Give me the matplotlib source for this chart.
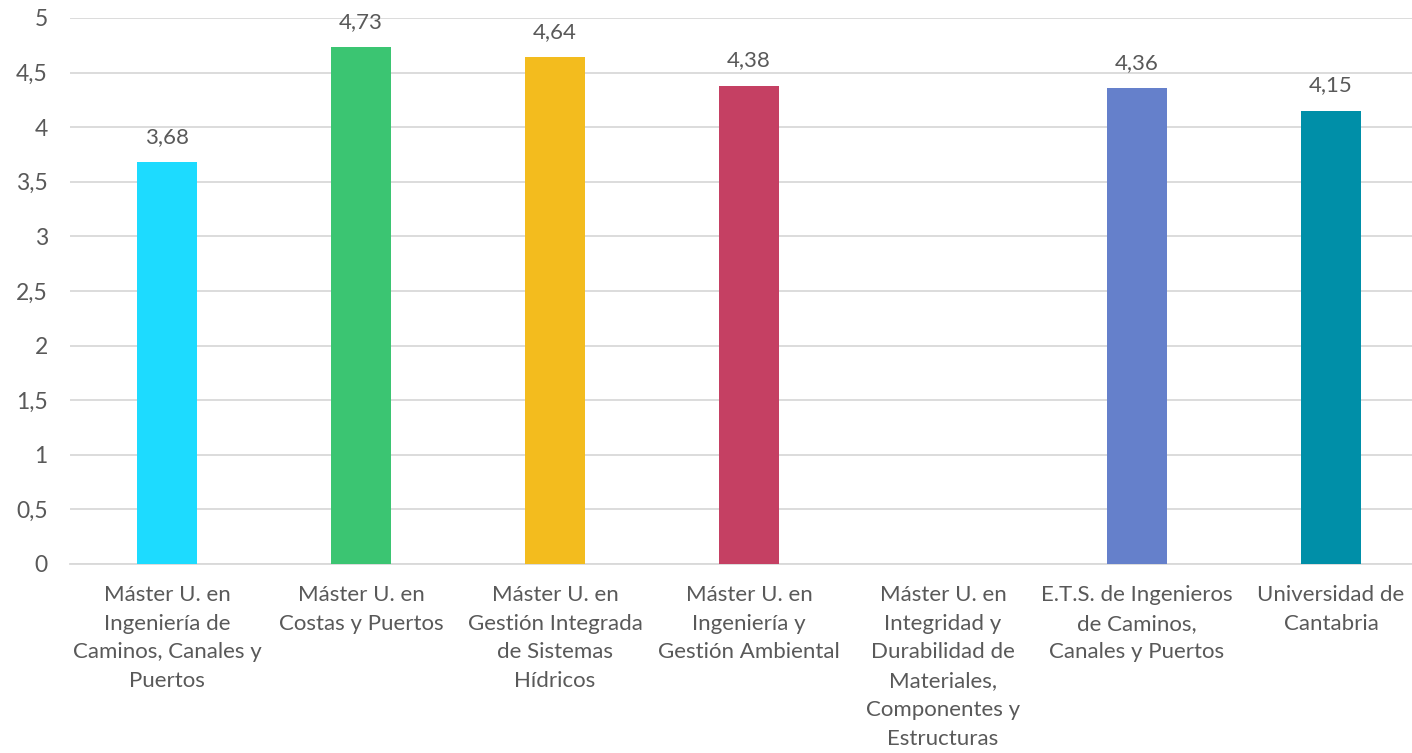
import numpy as np
import matplotlib.pyplot as plt

# data
categories = [
    "Máster U. en\nIngeniería de\nCaminos, Canales y\nPuertos",
    "Máster U. en\nCostas y Puertos",
    "Máster U. en\nGestión Integrada\nde Sistemas\nHídricos",
    "Máster U. en\nIngeniería y\nGestión Ambiental",
    "Máster U. en\nIntegridad y\nDurabilidad de\nMateriales,\nComponentes y\nEstructuras",
    "E.T.S. de Ingenieros\nde Caminos,\nCanales y Puertos",
    "Universidad de\nCantabria",
]
values = [3.68, 4.73, 4.64, 4.38, np.nan, 4.36, 4.15]
colors = ["#1DDBFF", "#3BC572", "#F3BC1E", "#C54063", "#FFFFFF", "#6580CB", "#008FA8"]
yticks = [0, 0.5, 1, 1.5, 2, 2.5, 3, 3.5, 4, 4.5, 5]

plt.rcParams['font.family'] = ['Lato', 'DejaVu Sans']
txtcol = "#595959"

W, H = 1412, 753
fig = plt.figure(figsize=(W / 100, H / 100), dpi=100)
ax = fig.add_axes([70 / W, 1 - 564 / H, (W - 70) / W, (564 - 18) / H])

x = np.arange(len(categories))
ax.bar(x, values, width=0.314, color=colors, zorder=3)
for xi, v in zip(x, values):
    if not np.isnan(v):
        ax.text(xi, v + 0.14, f"{v:.2f}".replace(".", ","), ha="center", va="bottom",
                fontsize=16, color=txtcol)

ax.set_ylim(0, 5)
ax.set_xlim(-0.5, -0.5 + (W - 70) / 194)
ax.set_yticks(yticks)
ax.set_yticklabels([f"{t:g}".replace(".", ",") for t in yticks], fontsize=16.5, color=txtcol)
ax.set_xticks(x)
ax.set_xticklabels(categories, fontsize=16, color=txtcol, linespacing=1.55, va="top")
ax.tick_params(axis="both", length=0)
ax.tick_params(axis="x", pad=15)
ax.tick_params(axis="y", pad=16)
ax.grid(axis="y", color="#D9D9D9", linewidth=1.3, zorder=0)
for s in ["top", "right", "left"]:
    ax.spines[s].set_visible(False)
ax.spines["bottom"].set_color("#D9D9D9")
ax.spines["bottom"].set_linewidth(1.3)

fig.savefig("out.png", dpi=100)
